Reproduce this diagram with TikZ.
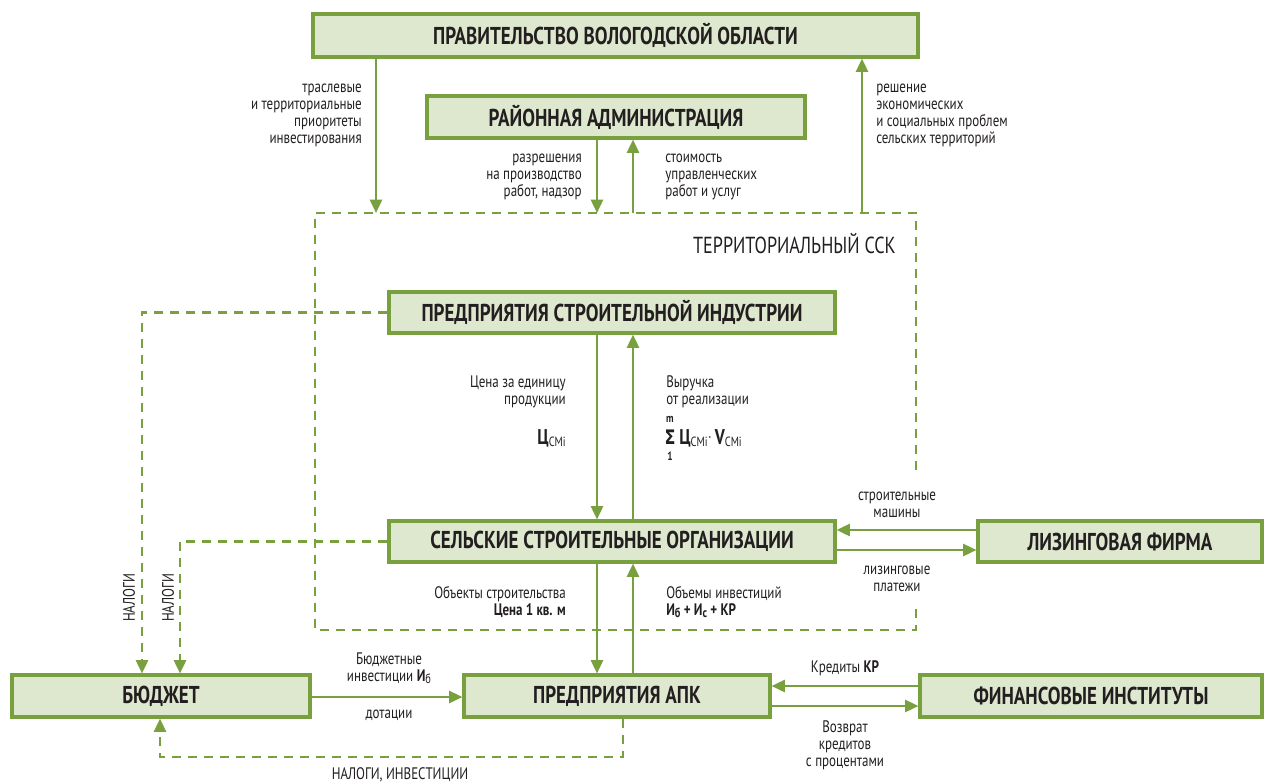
\documentclass[tikz,border=0pt]{standalone}
\usepackage{fontspec}
\setmainfont{PT Sans}[FakeStretch=0.78]
\newfontfamily\grk{DejaVu Sans}[FakeStretch=0.8]
\usetikzlibrary{arrows.meta}
\definecolor{gr}{HTML}{78A03E}
\definecolor{gf}{HTML}{DEE8CE}
\definecolor{tx}{HTML}{231F20}
\newcommand\lowidx[1]{\raisebox{-0.3ex}{\fontsize{10}{10}\selectfont #1}}
\begin{document}
\begin{tikzpicture}[x=0.75pt,y=-0.75pt,
  box/.style={draw=gr, fill=gf, line width=2.3pt, inner sep=0pt, text=tx,
    font=\fontsize{18.3}{20}\selectfont\bfseries},
  arr/.style={draw=gr, line width=1.9pt, -{Triangle[length=10pt,width=9pt]}},
  dsh/.style={draw=gr, line width=1.9pt, dash pattern=on 7pt off 5pt},
  dsharr/.style={dsh, -{Triangle[length=10pt,width=9pt]}},
  lbl/.style={text=tx, inner sep=0pt, font=\fontsize{12.5}{12.75}\selectfont}]
\useasboundingbox (0,0) rectangle (1272,783);
% helper coordinates
\coordinate (xa) at (376,0);
\coordinate (xb) at (597,0);
\coordinate (xc) at (633,0);
\coordinate (xd) at (862,0);
\coordinate (xe) at (142,0);
\coordinate (xf) at (180,0);
\coordinate (xg) at (623,0);
\coordinate (xh) at (160,0);
\coordinate (y530) at (0,530);
\coordinate (y550) at (0,550);
\coordinate (y686) at (0,686);
\coordinate (y706) at (0,706);
\coordinate (y697) at (0,697);
\coordinate (y757) at (0,757);
\coordinate (y470) at (0,470);
\coordinate (y606) at (0,606);
% boxes (sizes in px * 0.75pt)
\node[box, minimum width=453.75pt, minimum height=32.25pt] (gov) at (615.5,35.5) {ПРАВИТЕЛЬСТВО ВОЛОГОДСКОЙ ОБЛАСТИ};
\node[box, minimum width=283.5pt, minimum height=31.5pt] (rai) at (616,117) {РАЙОННАЯ АДМИНИСТРАЦИЯ};
\node[inner sep=0pt, outer sep=0pt, minimum width=450.75pt, minimum height=312.75pt] (ssk) at (615.5,421.5) {};
\node[box, minimum width=334.5pt, minimum height=30.75pt] (psi) at (612,312.5) {ПРЕДПРИЯТИЯ СТРОИТЕЛЬНОЙ ИНДУСТРИИ};
\node[box, minimum width=334.5pt, minimum height=30.75pt] (sso) at (612,541.5) {СЕЛЬСКИЕ СТРОИТЕЛЬНЫЕ ОРГАНИЗАЦИИ};
\node[box, minimum width=213pt, minimum height=30.75pt] (lf) at (1120,541.5) {ЛИЗИНГОВАЯ ФИРМА};
\node[box, minimum width=223.5pt, minimum height=31.5pt] (bud) at (161,696) {БЮДЖЕТ};
\node[box, minimum width=229.5pt, minimum height=31.5pt] (apk) at (617,696) {ПРЕДПРИЯТИЯ АПК};
\node[box, minimum width=256.5pt, minimum height=31.5pt] (fin) at (1091,696) {ФИНАНСОВЫЕ ИНСТИТУТЫ};
% dashed territorial box
\draw[dsh] (ssk.east |- y470) -- (ssk.north east) -- (ssk.north west)
  -- (ssk.south west) -- (ssk.south east) -- (ssk.east |- y606);
\node[text=tx, anchor=east, inner sep=0pt, font=\fontsize{17.4}{18}\selectfont] (ssklbl) at (896,244) {ТЕРРИТОРИАЛЬНЫЙ ССК};
% solid arrows
\draw[arr] (gov.south -| xa) -- (ssk.north -| xa);
\draw[arr] (ssk.north -| xd) -- (gov.south -| xd);
\draw[arr] (rai.south -| xb) -- (ssk.north -| xb);
\draw[arr] (ssk.north -| xc) -- (rai.south -| xc);
\draw[arr] (psi.south -| xb) -- (sso.north -| xb);
\draw[arr] (sso.north -| xc) -- (psi.south -| xc);
\draw[arr] (sso.south -| xb) -- (apk.north -| xb);
\draw[arr] (apk.north -| xc) -- (sso.south -| xc);
\draw[arr] (lf.west |- y530) -- (sso.east |- y530);
\draw[arr] (sso.east |- y550) -- (lf.west |- y550);
\draw[arr] (bud.east |- y697) -- (apk.west |- y697);
\draw[arr] (fin.west |- y686) -- (apk.east |- y686);
\draw[arr] (apk.east |- y706) -- (fin.west |- y706);
% dashed arrows
\draw[dsharr] (psi.west) -| (bud.north -| xe);
\draw[dsharr] (sso.west) -| (bud.north -| xf);
\draw[dsharr] (apk.south -| xg) -- (xg |- y757) -| (bud.south -| xh);
% labels
\node[lbl, anchor=east, align=right] (l1) at (362,115.5) {траслевые\\и территориальные\\приоритеты\\инвестирования};
\node[lbl, anchor=west, align=left] (l2) at (876,115.5) {решение\\экономических\\и социальных проблем\\сельских территорий};
\node[lbl, anchor=east, align=right] (l3) at (582,177) {разрешения\\на производство\\работ, надзор};
\node[lbl, anchor=west, align=left] (l4) at (665,177) {стоимость\\управленческих\\работ и услуг};
\node[lbl, anchor=east, align=right] (l5) at (566,391.5) {Цена за единицу\\продукции};
\node[lbl, anchor=east] (l6) at (566,438) {{\fontsize{16}{16}\selectfont\bfseries Ц}\lowidx{CMi}};
\node[lbl, anchor=west, align=left] (l7) at (666,391.5) {Выручка\\от реализации};
\node[lbl, font=\fontsize{9}{9}\selectfont\bfseries] (sm) at (670,419) {m};
\node[lbl, font=\fontsize{15}{15}\selectfont\bfseries\grk] (sg) at (670,437) {Σ};
\node[lbl, font=\fontsize{9}{9}\selectfont\bfseries] (s1) at (670,456) {1};
\node[lbl, anchor=west] (l8) at (679,438) {{\fontsize{16}{16}\selectfont\bfseries Ц}\lowidx{CMi}\raisebox{0.3ex}{$\cdot$}\,{\fontsize{16}{16}\selectfont\bfseries V}\lowidx{CMi}};
\node[lbl, align=center] (l9) at (897,504.5) {строительные\\машины};
\node[lbl, align=center] (l10) at (897,578.5) {лизинговые\\платежи};
\node[lbl, anchor=east, align=right] (l11) at (566,602) {Объекты строительства\\\textbf{Цена 1 кв. м}};
\node[lbl, anchor=west, align=left] (l12) at (666,602) {Объемы инвестиций\\\textbf{И\lowidx{б} + И\lowidx{с} + КР}};
\node[lbl, align=center] (l13) at (389,668) {Бюджетные\\инвестиции \textbf{И}\lowidx{б}};
\node[lbl] (l14) at (389,715) {дотации};
\node[lbl] (l15) at (845,668) {Кредиты \textbf{КР}};
\node[lbl, align=center] (l16) at (845,745) {Возврат\\кредитов\\с процентами};
\node[lbl, rotate=90] (l17) at (129,598) {НАЛОГИ};
\node[lbl, rotate=90] (l18) at (168,598) {НАЛОГИ};
\node[lbl] (l19) at (400,775) {НАЛОГИ, ИНВЕСТИЦИИ};
\end{tikzpicture}
\end{document}
